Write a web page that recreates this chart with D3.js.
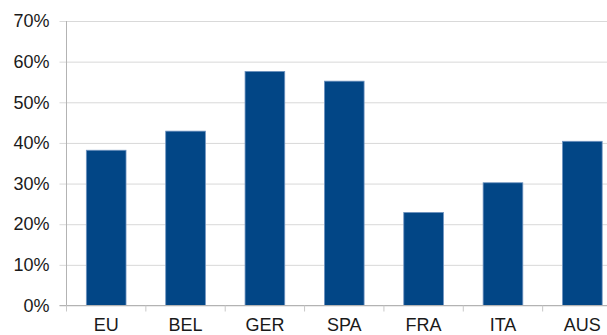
<!DOCTYPE html>
<html>
<head>
<meta charset="utf-8">
<script src="https://cdn.jsdelivr.net/npm/d3@7/dist/d3.min.js"></script>
<style>
  body { margin: 0; background: #fff; }
  svg { display: block; }
  text { font-family: "Liberation Sans", Arial, sans-serif; fill: #1a1a1a; }
</style>
</head>
<body>
<div id="chart"></div>
<script>
// chart data
var countries = ["EU", "BEL", "GER", "SPA", "FRA", "ITA", "AUS"];
var shares = [0.382, 0.429, 0.576, 0.552, 0.229, 0.302, 0.404];
var yTicks = [0, 0.1, 0.2, 0.3, 0.4, 0.5, 0.6, 0.7];

var width = 607, height = 335;
var plotLeft = 66.5, plotRight = 622, plotTop = 21, plotBottom = 305.5;

var svg = d3.select("#chart").append("svg")
  .attr("width", width)
  .attr("height", height);

var x = d3.scaleBand()
  .domain(countries)
  .range([plotLeft, plotRight])
  .paddingInner(0.5)
  .paddingOuter(0.25);

var y = d3.scaleLinear()
  .domain([0, 0.7])
  .range([plotBottom, plotTop]);

// horizontal gridlines + y labels
var yAxis = d3.axisLeft(y)
  .tickValues(yTicks)
  .tickFormat(d3.format(".0%"))
  .tickSize(-(width - plotLeft + 10))
  .tickPadding(17);

var gy = svg.append("g")
  .attr("transform", "translate(" + plotLeft + ",0)")
  .call(yAxis);
gy.select(".domain").remove();
gy.selectAll(".tick line")
  .attr("x1", -7)
  .attr("stroke", "#d9d9d9");
gy.selectAll(".tick text")
  .attr("font-size", 18)
  .attr("font-family", "Liberation Sans, Arial, sans-serif")
  .attr("fill", "#1a1a1a");

// bars
svg.selectAll("rect.bar")
  .data(shares)
  .enter().append("rect")
  .attr("class", "bar")
  .attr("x", function(d, i) { return x(countries[i]); })
  .attr("width", x.bandwidth())
  .attr("y", function(d) { return y(d); })
  .attr("height", function(d) { return plotBottom - y(d); })
  .attr("fill", "#024686")
  .attr("stroke", "#6f93c0")
  .attr("stroke-width", 0.8);

// y axis line
svg.append("line")
  .attr("x1", plotLeft).attr("x2", plotLeft)
  .attr("y1", plotTop).attr("y2", plotBottom)
  .attr("stroke", "#b3b3b3");

// x axis line + ticks at band boundaries
svg.append("line")
  .attr("x1", plotLeft - 7).attr("x2", width)
  .attr("y1", plotBottom).attr("y2", plotBottom)
  .attr("stroke", "#b3b3b3");

var step = x.step();
svg.selectAll("line.xtick")
  .data(d3.range(countries.length + 1))
  .enter().append("line")
  .attr("class", "xtick")
  .attr("x1", function(i) { return plotLeft + i * step; })
  .attr("x2", function(i) { return plotLeft + i * step; })
  .attr("y1", plotBottom)
  .attr("y2", plotBottom + 6)
  .attr("stroke", "#c8c8c8");

// category labels
svg.selectAll("text.cat")
  .data(countries)
  .enter().append("text")
  .attr("class", "cat")
  .attr("x", function(d) { return x(d) + x.bandwidth() / 2; })
  .attr("y", 330.5)
  .attr("text-anchor", "middle")
  .attr("font-size", 18)
  .text(function(d) { return d; });
</script>
</body>
</html>
